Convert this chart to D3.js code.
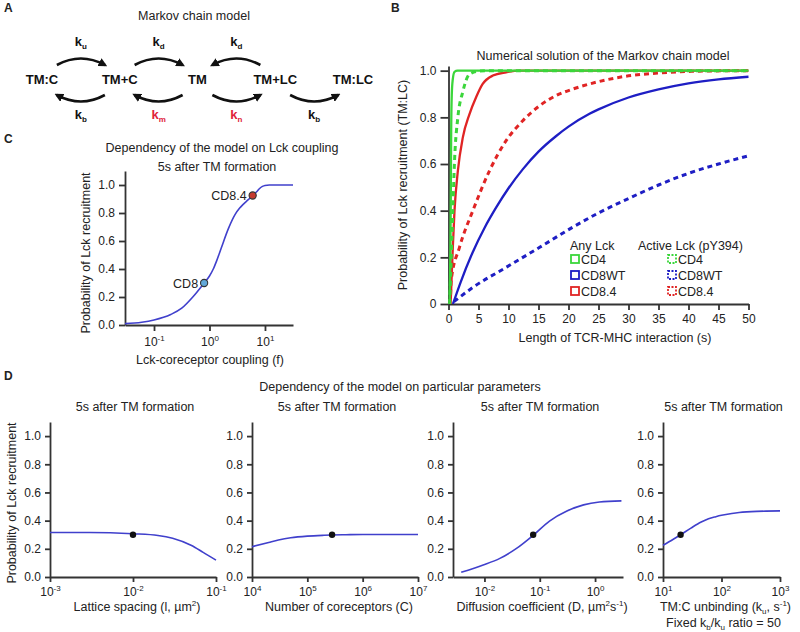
<!DOCTYPE html>
<html>
<head>
<meta charset="utf-8">
<script src="https://cdn.jsdelivr.net/npm/d3@7"></script>
<style>
  body { margin: 0; background: #fff; }
  svg { display: block; }
  svg text { font-family: "Liberation Sans", Arial, sans-serif; fill: #222; }
  .axis text { font-size: 12px; }
  .title { font-size: 12.5px; text-anchor: middle; }
  .lbl { font-size: 12.5px; }
  .letter { font-size: 12px; font-weight: bold; }
</style>
</head>
<body>
<svg id="fig" width="800" height="632"></svg>
<script>
// ---------- data ----------
// A: Markov chain states and transitions
const markovNodes = ['TM:C', 'TM+C', 'TM', 'TM+LC', 'TM:LC'];
const markovRates = [
  {from: 0, to: 1, side: 'top', k: 'u'},
  {from: 1, to: 0, side: 'bottom', k: 'b'},
  {from: 1, to: 2, side: 'top', k: 'd'},
  {from: 2, to: 1, side: 'bottom', k: 'm'},
  {from: 3, to: 2, side: 'top', k: 'd'},
  {from: 2, to: 3, side: 'bottom', k: 'n'},
  {from: 3, to: 4, side: 'bottom', k: 'b'}
];
const changedRates = ['m', 'n'];

// B: probability of Lck recruitment vs time [s, p]
const cd4Any = [[0.2, 0], [0.3, 0.2], [0.38, 0.45], [0.45, 0.75], [0.55, 0.9], [0.7, 0.96], [1.0, 0.995], [1.5, 1], [50, 1]];
const cd4Active = [[0.2, 0], [0.44, 0.19], [0.72, 0.4], [1.0, 0.61], [1.56, 0.8], [2.39, 0.91], [3.5, 0.985], [5, 0.998], [8, 1], [50, 1]];
const cd8wtAny = [[0.74, 0], [2, 0.092], [4, 0.22], [6, 0.326], [8, 0.416], [10, 0.496], [12.4, 0.578], [15, 0.653], [17.9, 0.719], [20, 0.76], [23.5, 0.815], [25, 0.834], [30, 0.885], [35, 0.92], [40, 0.946], [45, 0.963], [50, 0.974]];
const cd8wtActive = [[0.9, 0.01], [4.06, 0.071], [9.6, 0.157], [15.2, 0.243], [20.7, 0.329], [25.2, 0.393], [30, 0.452], [35, 0.51], [40, 0.56], [45, 0.6], [50, 0.635]];
const cd84Any = [[0.35, 0], [0.44, 0.06], [0.72, 0.243], [1.0, 0.4], [1.56, 0.571], [2.39, 0.714], [3.5, 0.814], [4.6, 0.886], [5.7, 0.943], [7.4, 0.979], [9.6, 0.993], [11.8, 1], [50, 1]];
const cd84Active = [[0.35, 0.04], [0.44, 0.1], [1.83, 0.243], [4.06, 0.4], [6.83, 0.571], [9.6, 0.7], [12.4, 0.786], [15.2, 0.85], [17.9, 0.893], [20.7, 0.921], [23.5, 0.943], [29.3, 0.975], [35, 0.99], [40.4, 0.997], [50, 1]];
const timeTicks = [0, 5, 10, 15, 20, 25, 30, 35, 40, 45, 50];
const probTicks = [0, 0.2, 0.4, 0.6, 0.8, 1.0];
const legendGroups = ['Any Lck', 'Active Lck (pY394)'];
const legendNames = ['CD4', 'CD8WT', 'CD8.4'];

// C: dependency on Lck-coreceptor coupling [f, p]
const couplingCurve = [[0.03, 0.01], [0.06, 0.02], [0.1, 0.036], [0.2, 0.075], [0.316, 0.12], [0.5, 0.2], [0.8, 0.3], [1.0, 0.35], [1.17, 0.4], [1.35, 0.46], [1.63, 0.55], [2.2, 0.69], [2.9, 0.79], [3.5, 0.835], [4, 0.86], [5, 0.895], [6, 0.925], [7, 0.95], [8, 0.975], [9, 0.99], [10, 0.997], [12, 1.0], [32, 1.0]];
const couplingMarks = [{name: 'CD8', f: 0.8, p: 0.3}, {name: 'CD8.4', f: 6, p: 0.925}];

// D: dependency on particular parameters
const latticeCurve = [[1e-3, 0.316], [3e-3, 0.316], [1e-2, 0.307], [2e-2, 0.295], [3e-2, 0.275], [5e-2, 0.225], [7e-2, 0.175], [1e-1, 0.12]];
const latticePoint = [1e-2, 0.3];
const coreceptorCurve = [[1e4, 0.215], [2e4, 0.245], [3e4, 0.262], [5e4, 0.278], [1e5, 0.29], [2e5, 0.296], [5e5, 0.3], [1e6, 0.302], [1e7, 0.302]];
const coreceptorPoint = [2.8e5, 0.3];
const diffusionCurve = [[0.0038, 0.033], [0.0095, 0.085], [0.019, 0.132], [0.038, 0.203], [0.076, 0.296], [0.15, 0.397], [0.31, 0.468], [0.62, 0.512], [1.2, 0.532], [3.0, 0.54]];
const diffusionPoint = [0.076, 0.3];
const unbindingCurve = [[10, 0.225], [15, 0.268], [20, 0.3], [30, 0.347], [45, 0.39], [60, 0.413], [80, 0.428], [100, 0.438], [150, 0.451], [200, 0.458], [400, 0.466], [1000, 0.469]];
const unbindingPoint = [20, 0.3];

// ---------- drawing ----------
const svg = d3.select('#fig');
const ink = '#333';
const red = '#e0223a';
const curveBlue = '#4040cc';
const colors = {CD4: '#3bd63b', CD8WT: '#1e1ec4', 'CD8.4': '#e02424'};

function styleAxis(g) {
  g.select('.domain').attr('stroke', ink).attr('stroke-width', 1.8);
  g.selectAll('.tick line').attr('stroke', ink).attr('stroke-width', 1.8);
}

// writes text with sub/superscript parts
function rich(text, parts, small) {
  let shift = 0;
  parts.forEach(([s, mode]) => {
    const target = mode === 'sup' ? -5 : mode === 'sub' ? 3 : 0;
    const span = text.append('tspan')
      .attr('font-size', mode ? (small || '8px') : null)
      .text(s);
    if (target - shift !== 0) span.attr('dy', target - shift);
    shift = target;
  });
  return text;
}

function logTicks(g) {
  g.selectAll('.tick text').each(function (d) {
    const t = d3.select(this).text('');
    rich(t, [['10', ''], [String(Math.round(Math.log10(d))), 'sup']]);
  });
}

function yLabel(x, y, str) {
  svg.append('text').attr('class', 'lbl')
    .attr('transform', `translate(${x},${y}) rotate(-90)`)
    .attr('text-anchor', 'middle')
    .text(str);
}

// panel letters
[['A', 4, 12], ['B', 391, 12], ['C', 4, 143], ['D', 4, 380]].forEach(([s, x, y]) => {
  svg.append('text').attr('class', 'letter').attr('x', x).attr('y', y).text(s);
});

// ---------- A ----------
const a = svg.append('g');
a.append('text').attr('class', 'title').attr('x', 194).attr('y', 20).text('Markov chain model');

svg.append('defs').append('marker')
  .attr('id', 'arrow').attr('viewBox', '0 0 10 10')
  .attr('refX', 7).attr('refY', 5)
  .attr('markerWidth', 3.4).attr('markerHeight', 3.4)
  .attr('orient', 'auto')
  .append('path').attr('d', 'M0,0 L10,5 L0,10 Z').attr('fill', '#111');

const nodeX = d3.scalePoint().domain(markovNodes).range([42, 353]);
a.selectAll('.node').data(markovNodes).join('text')
  .attr('class', 'node')
  .attr('x', d => nodeX(d)).attr('y', 84)
  .attr('text-anchor', 'middle')
  .attr('font-size', '13px').attr('font-weight', 'bold')
  .style('fill', '#111')
  .text(d => d);

markovRates.forEach(r => {
  const x1 = nodeX(markovNodes[r.from]), x2 = nodeX(markovNodes[r.to]);
  const mid = (x1 + x2) / 2;
  const dir = Math.sign(x2 - x1);
  const top = r.side === 'top';
  const y0 = top ? 65 : 95;
  const bend = top ? -13 : 13;
  const xs = mid - dir * 24, xe = mid + dir * 24;
  a.append('path')
    .attr('d', `M${xs},${y0} Q${mid},${y0 + bend} ${xe},${y0}`)
    .attr('fill', 'none').attr('stroke', '#111').attr('stroke-width', 2.6)
    .attr('marker-end', 'url(#arrow)');
  const hl = changedRates.includes(r.k);
  const t = a.append('text')
    .attr('x', mid).attr('y', top ? 46 : 119)
    .attr('text-anchor', 'middle')
    .attr('font-size', '13px').attr('font-weight', 'bold')
    .style('fill', hl ? red : '#111');
  rich(t, [['k', ''], [r.k, 'sub']], '8px');
});

// ---------- B ----------
const bx = d3.scaleLinear().domain([0, 50]).range([448.5, 748.5]);
const by = d3.scaleLinear().domain([0, 1.02]).range([304, 66]);
const b = svg.append('g');
b.append('text').attr('class', 'title').attr('x', 603).attr('y', 60).text('Numerical solution of the Markov chain model');

const bxAxis = b.append('g').attr('class', 'axis').attr('transform', `translate(0,${by(0)})`)
  .call(d3.axisBottom(bx).tickValues(timeTicks).tickSize(6).tickSizeOuter(0).tickPadding(4));
styleAxis(bxAxis);
const byAxis = b.append('g').attr('class', 'axis').attr('transform', `translate(${bx(0)},0)`)
  .call(d3.axisLeft(by).tickValues(probTicks).tickSize(8).tickSizeOuter(0).tickPadding(4)
    .tickFormat(d => d === 0 ? '0' : d.toFixed(1)));
styleAxis(byAxis);
b.append('text').attr('class', 'lbl').attr('x', 615).attr('y', 342).attr('text-anchor', 'middle')
  .text('Length of TCR-MHC interaction (s)');
yLabel(407, 185, 'Probability of Lck recruitment (TM:LC)');

const bLine = d3.line().x(d => bx(d[0])).y(d => by(d[1])).curve(d3.curveMonotoneX);
const bSeries = [
  {data: cd8wtActive, name: 'CD8WT', dashed: true},
  {data: cd84Active, name: 'CD8.4', dashed: true},
  {data: cd8wtAny, name: 'CD8WT', dashed: false},
  {data: cd84Any, name: 'CD8.4', dashed: false},
  {data: cd4Active, name: 'CD4', dashed: true},
  {data: cd4Any, name: 'CD4', dashed: false}
];
b.selectAll('.series').data(bSeries).join('path')
  .attr('class', 'series')
  .attr('d', d => bLine(d.data))
  .attr('fill', 'none')
  .attr('stroke', d => colors[d.name])
  .attr('stroke-width', d => d.dashed ? 3 : 2.3)
  .attr('stroke-dasharray', d => d.dashed ? '5,4' : null);

// legend
const legX = [570, 667];
b.selectAll('.leg-head').data(legendGroups).join('text')
  .attr('class', 'leg-head lbl')
  .attr('x', (d, i) => i === 0 ? legX[0] : 638).attr('y', 250)
  .text(d => d);
legendGroups.forEach((grp, gi) => {
  const rows = b.append('g');
  rows.selectAll('rect').data(legendNames).join('rect')
    .attr('x', legX[gi] + 1).attr('y', (d, i) => 255 + i * 16)
    .attr('width', 8).attr('height', 8)
    .attr('fill', 'none')
    .attr('stroke', d => colors[d])
    .attr('stroke-width', 1.8)
    .attr('stroke-dasharray', gi === 1 ? '2,1.5' : null);
  rows.selectAll('text').data(legendNames).join('text')
    .attr('class', 'lbl')
    .attr('x', legX[gi] + 11).attr('y', (d, i) => 264 + i * 16)
    .text(d => d);
});

// ---------- C ----------
const cx = d3.scaleLog().domain([0.03, 32]).range([125, 293]);
const cy = d3.scaleLinear().domain([0, 1.1]).range([325, 171]);
const c = svg.append('g');
c.append('text').attr('class', 'title').attr('x', 222).attr('y', 152).text('Dependency of the model on Lck coupling');
c.append('text').attr('class', 'title').attr('x', 217).attr('y', 171).text('5s after TM formation');
const cxAxis = c.append('g').attr('class', 'axis').attr('transform', `translate(0,${cy(0)})`)
  .call(d3.axisBottom(cx).tickValues([0.1, 1, 10]).tickSize(6).tickSizeOuter(0).tickPadding(6));
styleAxis(cxAxis);
logTicks(cxAxis);
const cyAxis = c.append('g').attr('class', 'axis').attr('transform', `translate(${cx.range()[0]},0)`)
  .call(d3.axisLeft(cy).tickValues(probTicks).tickSize(6).tickSizeOuter(0).tickPadding(4)
    .tickFormat(d3.format('.1f')));
styleAxis(cyAxis);
c.append('text').attr('class', 'lbl').attr('x', 210).attr('y', 364).attr('text-anchor', 'middle')
  .text('Lck-coreceptor coupling (f)');
yLabel(90, 253, 'Probability of Lck recruitment');

const cLine = d3.line().x(d => cx(d[0])).y(d => cy(d[1])).curve(d3.curveMonotoneX);
c.append('path').attr('d', cLine(couplingCurve))
  .attr('fill', 'none').attr('stroke', curveBlue).attr('stroke-width', 1.6);
c.selectAll('.mark').data(couplingMarks).join('circle')
  .attr('class', 'mark')
  .attr('cx', d => cx(d.f)).attr('cy', d => cy(d.p)).attr('r', 3.6)
  .attr('fill', d => d.name === 'CD8' ? '#62a8d8' : '#c43a30')
  .attr('stroke', '#333').attr('stroke-width', 1.1);
c.selectAll('.mark-lbl').data(couplingMarks).join('text')
  .attr('class', 'mark-lbl lbl')
  .attr('x', d => cx(d.f) - 6).attr('y', d => cy(d.p) + 4.5)
  .attr('text-anchor', 'end')
  .text(d => d.name);

// ---------- D ----------
svg.append('text').attr('class', 'title').attr('x', 400).attr('y', 391)
  .text('Dependency of the model on particular parameters');
yLabel(16, 503, 'Probability of Lck recruitment');

const dPanels = [
  {curve: latticeCurve, point: latticePoint, domain: [1e-3, 1e-1], range: [50, 216], ticks: [1e-3, 1e-2, 1e-1],
    label: [['Lattice spacing (l, µm', ''], ['2', 'sup'], [')', '']]},
  {curve: coreceptorCurve, point: coreceptorPoint, domain: [1e4, 1e7], range: [252, 418], ticks: [1e4, 1e5, 1e6, 1e7],
    label: [['Number of coreceptors (C)', '']]},
  {curve: diffusionCurve, point: diffusionPoint, domain: [0.0027, 3.2], range: [453, 623], ticks: [0.01, 0.1, 1],
    label: [['Diffusion coefficient (D, µm', ''], ['2', 'sup'], ['s', ''], ['-1', 'sup'], [')', '']]},
  {curve: unbindingCurve, point: unbindingPoint, domain: [10, 1000], range: [663, 780], ticks: [10, 100, 1000],
    label: [['TM:C unbinding (k', ''], ['u', 'sub'], [', s', ''], ['-1', 'sup'], [')', '']],
    label2: [['Fixed k', ''], ['b', 'sub'], ['/k', ''], ['u', 'sub'], [' ratio = 50', '']]}
];
const dy = d3.scaleLinear().domain([0, 1.1]).range([577, 422]);

dPanels.forEach(p => {
  const g = svg.append('g');
  const x = d3.scaleLog().domain(p.domain).range(p.range);
  const midX = (p.range[0] + p.range[1]) / 2;
  g.append('text').attr('class', 'title').attr('x', midX + 2).attr('y', 411).text('5s after TM formation');
  const xa = g.append('g').attr('class', 'axis').attr('transform', `translate(0,${dy(0)})`)
    .call(d3.axisBottom(x).tickValues(p.ticks).tickSize(5).tickSizeOuter(0).tickPadding(5));
  styleAxis(xa);
  logTicks(xa);
  const ya = g.append('g').attr('class', 'axis').attr('transform', `translate(${p.range[0]},0)`)
    .call(d3.axisLeft(dy).tickValues(probTicks).tickSize(5).tickSizeOuter(0).tickPadding(4)
      .tickFormat(d3.format('.1f')));
  styleAxis(ya);
  const line = d3.line().x(d => x(d[0])).y(d => dy(d[1])).curve(d3.curveMonotoneX);
  g.append('path').attr('d', line(p.curve))
    .attr('fill', 'none').attr('stroke', curveBlue).attr('stroke-width', 1.6);
  g.append('circle').attr('cx', x(p.point[0])).attr('cy', dy(p.point[1])).attr('r', 3.2).attr('fill', '#111');
  rich(g.append('text').attr('class', 'lbl').attr('x', midX + 4).attr('y', 611).attr('text-anchor', 'middle'), p.label);
  if (p.label2) {
    rich(g.append('text').attr('class', 'lbl').attr('x', midX + 2).attr('y', 627).attr('text-anchor', 'middle'), p.label2);
  }
});
</script>
</body>
</html>
